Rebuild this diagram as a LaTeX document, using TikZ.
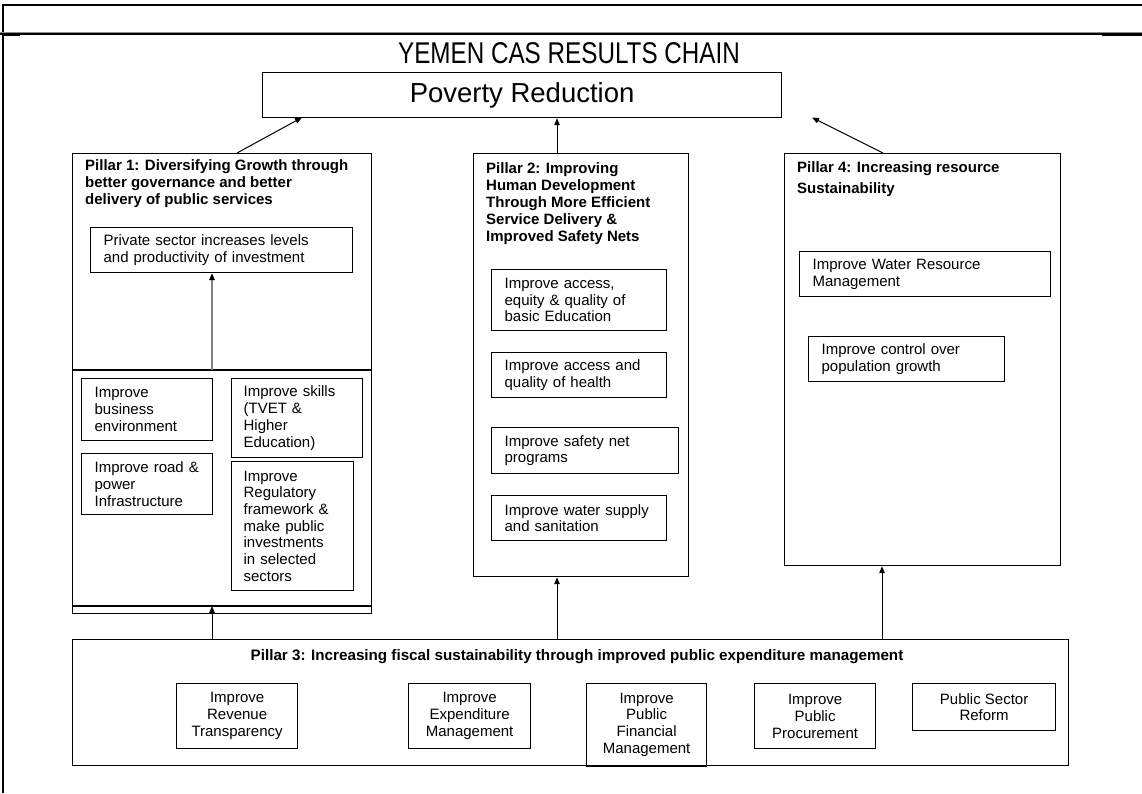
\documentclass[tikz,border=0pt]{standalone}
\usepackage{fontspec}
\setmainfont{Liberation Sans}
\usetikzlibrary{arrows.meta}
\begin{document}
\begin{tikzpicture}[x=1pt,y=-1pt,
  box/.style={draw, line width=1.2pt, rectangle, inner sep=0pt, anchor=north west},
  tbox/.style={box, inner xsep=13pt, align=left, font=\fontsize{15}{16.7}\selectfont},
  cbox/.style={box, align=center, font=\fontsize{15}{16.8}\selectfont},
  ptitle/.style={inner sep=0pt, anchor=north west, align=left, font=\bfseries\fontsize{15}{17}\selectfont},
  arr/.style={line width=1pt, -{Triangle[length=7pt,width=5.5pt]}},
  garr/.style={line width=1.6pt, draw=black!50, -{Triangle[length=7pt,width=5.5pt,color=black,fill=black]}},
  frame/.style={line width=2pt}
]
\useasboundingbox (0,0) rectangle (1142,793);
% outer frame
\draw[frame] (2.5,793) -- (2.5,5) -- (1142,5);
\draw[line width=1pt, draw=black!45] (0,32.5) -- (1142,32.5);
\draw[line width=1.2pt] (0,34) -- (1142,34);
\draw[line width=2.5pt] (3,34.5) -- (20,34.5);
\draw[line width=2.5pt] (1102,34.5) -- (1142,34.5);

% title
\node[inner sep=0pt, font=\fontsize{25}{25}\selectfont] (title) at (569,53) {\scalebox{0.97}[1.2]{YEMEN CAS RESULTS CHAIN}};
\node[box, minimum width=519pt, minimum height=45pt, font=\fontsize{27.5}{27.5}\selectfont] (pov) at (262,72) {Poverty Reduction};

% Pillar 1
\node[box, minimum width=299pt, minimum height=460pt] (p1) at (72,153) {};
\node[ptitle] (p1t) at (85,159) {Pillar 1: Diversifying Growth through\\better governance and better\\delivery of public services};
\node[tbox, text width=236pt, minimum height=45pt] (priv) at (90,227) {Private sector increases levels\\and productivity of investment};
\coordinate (p1l) at (72,370);
\coordinate (p1r) at (371,370);
\draw[line width=1.2pt] (p1l) -- (p1r);
\coordinate (p1m) at (212,370);
\draw[garr] (p1m) -- (p1m |- priv.south);
\node[tbox, text width=105pt, minimum height=62pt] (bus) at (81,378) {Improve\\business\\environment};
\node[tbox, text width=105pt, minimum height=61pt] (road) at (81,453) {Improve road \&\\power\\Infrastructure};
\node[tbox, inner xsep=12pt, text width=107pt, minimum height=79pt] (skill) at (231,378) {Improve skills\\(TVET \&\\Higher\\Education)};
\node[tbox, inner xsep=12pt, text width=98pt, minimum height=129pt] (reg) at (231,461) {Improve\\Regulatory\\framework \&\\make public\\investments\\in selected\\sectors};
\coordinate (p1bl) at (72,606);
\coordinate (p1br) at (371,606);
\draw[line width=1.2pt] (p1bl) -- (p1br);

% Pillar 2
\node[box, minimum width=215pt, minimum height=423pt] (p2) at (473,153) {};
\node[ptitle] (p2t) at (486,162) {Pillar 2: Improving\\Human Development\\Through More Efficient\\Service Delivery \&\\Improved Safety Nets};
\node[tbox, text width=149pt, minimum height=61pt] (ed) at (491,269) {Improve access,\\equity \& quality of\\basic Education};
\node[tbox, text width=149pt, minimum height=45pt] (hl) at (491,352) {Improve access and\\quality of health};
\node[tbox, text width=161pt, minimum height=46pt] (sn) at (491,427) {Improve safety net\\programs};
\node[tbox, text width=149pt, minimum height=45pt] (ws) at (491,495) {Improve water supply\\and sanitation};

% Pillar 4
\node[box, minimum width=276pt, minimum height=412pt] (p4) at (784,153) {};
\node[ptitle, font=\bfseries\fontsize{15}{21}\selectfont] (p4t) at (797,161) {Pillar 4: Increasing resource\\Sustainability};
\node[tbox, text width=225pt, minimum height=45pt] (wr) at (799,251) {Improve Water Resource\\Management};
\node[tbox, text width=170pt, minimum height=45pt] (pop) at (808,336) {Improve control over\\population growth};

% Pillar 3
\node[box, minimum width=996pt, minimum height=126pt] (p3) at (72,639) {};
\node[inner sep=0pt, font=\bfseries\fontsize{15.2}{17}\selectfont] (p3t) at (577,657) {Pillar 3: Increasing fiscal sustainability through improved public expenditure management};
\node[cbox, minimum width=121pt, minimum height=65pt] (rev) at (176,683) {Improve\\Revenue\\Transparency};
\node[cbox, minimum width=122pt, minimum height=65pt] (exp) at (408,683) {Improve\\Expenditure\\Management};
\node[cbox, minimum width=120pt, minimum height=82pt] (fin) at (586,683) {Improve\\Public\\Financial\\Management};
\draw[line width=2.5pt] (fin.south west) -- (fin.south east);
\node[cbox, minimum width=121pt, minimum height=65pt] (proc) at (754,683) {Improve\\Public\\Procurement};
\node[cbox, minimum width=143pt, minimum height=47pt] (psr) at (912,683) {Public Sector\\Reform};

% arrows to poverty reduction
\coordinate (a1s) at (237,153);
\coordinate (a1e) at (302,117.5);
\draw[arr] (a1s) -- (a1e);
\coordinate (a2s) at (557,153);
\draw[arr] (a2s) -- (a2s |- pov.south);
\coordinate (a4s) at (883,153);
\coordinate (a4e) at (812,117.5);
\draw[arr] (a4s) -- (a4e);

% arrows from pillar 3
\coordinate (b1s) at (212,639);
\draw[arr] (b1s) -- (b1s |- p1bl);
\coordinate (b2s) at (557,639);
\draw[arr] (b2s) -- (b2s |- p2.south);
\coordinate (b4s) at (882,639);
\draw[arr] (b4s) -- (b4s |- p4.south);
\end{tikzpicture}
\end{document}
